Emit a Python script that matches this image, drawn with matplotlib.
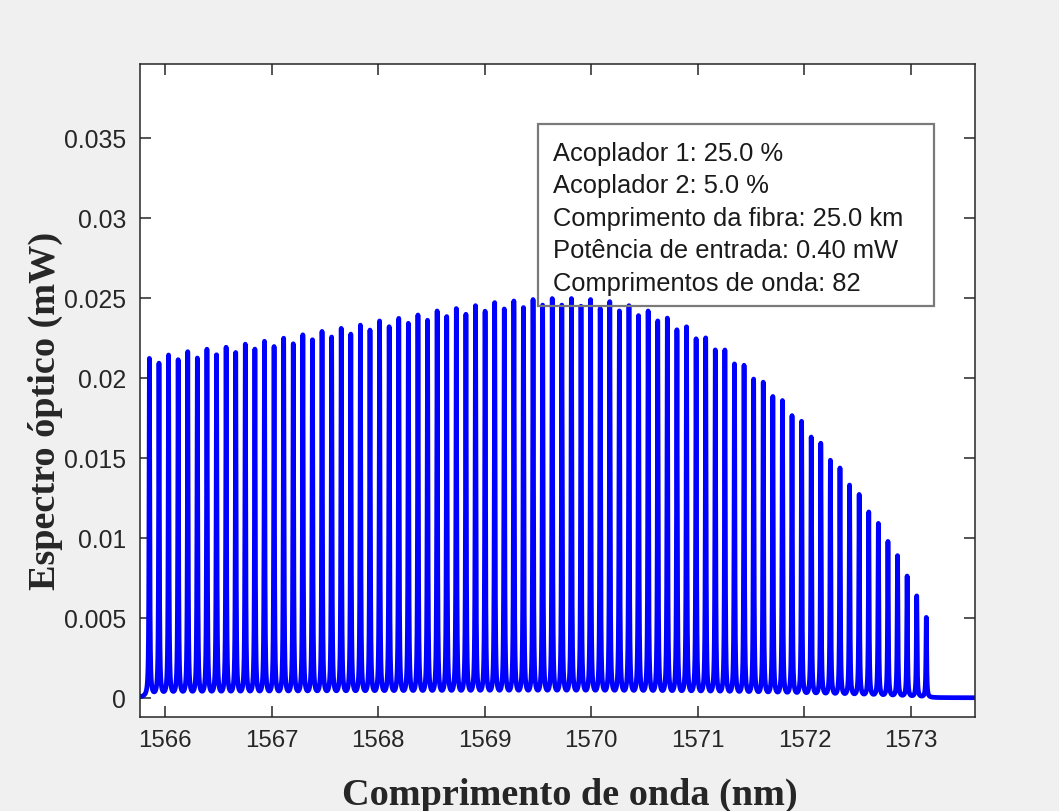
import numpy as np
import matplotlib.pyplot as plt
from matplotlib.patches import Rectangle

# comprimento de onda central de cada canal (nm)
wavelengths = [
    1565.853, 1565.943, 1566.033, 1566.123, 1566.213, 1566.303, 1566.393, 1566.483, 1566.573, 1566.663,
    1566.753, 1566.843, 1566.933, 1567.023, 1567.113, 1567.203, 1567.293, 1567.383, 1567.473, 1567.563,
    1567.653, 1567.743, 1567.833, 1567.923, 1568.013, 1568.103, 1568.193, 1568.283, 1568.373, 1568.463,
    1568.553, 1568.643, 1568.733, 1568.823, 1568.913, 1569.003, 1569.093, 1569.183, 1569.273, 1569.363,
    1569.453, 1569.543, 1569.633, 1569.723, 1569.813, 1569.903, 1569.993, 1570.083, 1570.173, 1570.263,
    1570.353, 1570.443, 1570.533, 1570.623, 1570.713, 1570.803, 1570.893, 1570.983, 1571.073, 1571.163,
    1571.253, 1571.343, 1571.433, 1571.523, 1571.613, 1571.703, 1571.793, 1571.883, 1571.973, 1572.063,
    1572.153, 1572.243, 1572.333, 1572.423, 1572.513, 1572.603, 1572.693, 1572.783, 1572.873, 1572.963,
    1573.053, 1573.143,
]

# potencia de pico de cada canal (mW)
peak_power = [
    0.02114, 0.02080, 0.02130, 0.02100, 0.02150, 0.02110, 0.02165, 0.02130, 0.02177, 0.02144,
    0.02196, 0.02165, 0.02214, 0.02181, 0.02233, 0.02198, 0.02254, 0.02223, 0.02275, 0.02240,
    0.02294, 0.02258, 0.02314, 0.02283, 0.02340, 0.02304, 0.02356, 0.02325, 0.02377, 0.02344,
    0.02402, 0.02367, 0.02417, 0.02381, 0.02435, 0.02400, 0.02454, 0.02414, 0.02464, 0.02423,
    0.02473, 0.02438, 0.02479, 0.02438, 0.02479, 0.02431, 0.02473, 0.02417, 0.02460, 0.02402,
    0.02435, 0.02373, 0.02402, 0.02340, 0.02358, 0.02285, 0.02304, 0.02229, 0.02235, 0.02160,
    0.02160, 0.02073, 0.02065, 0.01979, 0.01960, 0.01871, 0.01846, 0.01752, 0.01717, 0.01619,
    0.01581, 0.01475, 0.01427, 0.01321, 0.01263, 0.01154, 0.01083, 0.00971, 0.00883, 0.00756,
    0.00633, 0.00500,
]

info_lines = [
    'Acoplador 1: 25.0 %',
    'Acoplador 2: 5.0 %',
    'Comprimento da fibra: 25.0 km',
    'Potência de entrada: 0.40 mW',
    'Comprimentos de onda: 82',
]

x_ticks = [1566, 1567, 1568, 1569, 1570, 1571, 1572, 1573]
y_ticks = [0, 0.005, 0.01, 0.015, 0.02, 0.025, 0.03, 0.035]
y_tick_labels = ['0', '0.005', '0.01', '0.015', '0.02', '0.025', '0.03', '0.035']

x_min, x_max = 1565.765, 1573.60
y_min, y_max = -0.0012, 0.0396

W, H = 1059, 812
dark = '#262626'

fig = plt.figure(figsize=(W / 100, H / 100), dpi=100, facecolor='#f0f0f0')
ax = fig.add_axes([140 / W, 1 - 718 / H, (975 - 140) / W, (718 - 65) / H])

# espectro: soma de linhas lorentzianas estreitas em cada canal
lam = np.sort(np.concatenate([np.linspace(x_min, x_max, 16000), wavelengths]))
g = 0.004
spec = np.zeros_like(lam)
for wl, p in zip(wavelengths, peak_power):
    spec += p / (1 + ((lam - wl) / g) ** 2)

ax.plot(lam, spec, color='#0000ff', lw=3.4, solid_joinstyle='round')

ax.set_xlim(x_min, x_max)
ax.set_ylim(y_min, y_max)
ax.set_xticks(x_ticks)
ax.set_xticklabels([str(t) for t in x_ticks])
ax.set_yticks(y_ticks)
ax.set_yticklabels(y_tick_labels)
ax.tick_params(direction='in', length=8, width=1.1, top=True, right=True,
               color=dark, labelcolor=dark, labelsize=17.3)
ax.tick_params(axis='x', pad=9)
ax.tick_params(axis='y', pad=10, labelsize=17.8)
for lab in ax.get_xticklabels() + ax.get_yticklabels():
    lab.set_family('Liberation Sans')
for s in ax.spines.values():
    s.set_color(dark)
    s.set_linewidth(1.1)

fig.text(570 / W, 1 - 795 / H, 'Comprimento de onda (nm)', ha='center', va='center',
         family='Liberation Serif', weight='bold', fontsize=27.5, color=dark)
fig.text(45 / W, 1 - 411 / H, 'Espectro óptico (mW)', ha='center', va='center', rotation=90,
         family='Liberation Serif', weight='bold', fontsize=27.5, color=dark)

# caixa de anotacao
box = Rectangle((538 / W, 1 - 307 / H), (934 - 538) / W, (307 - 125) / H,
                transform=fig.transFigure, fill=False, edgecolor='#7a7a7a', lw=1.6)
fig.add_artist(box)
for i, line in enumerate(info_lines):
    fig.text(553 / W, 1 - (154 + 32.5 * i) / H, line, ha='left', va='center',
             family='Liberation Sans', fontsize=18.4, color='#1a1a1a')

fig.savefig('out.png', dpi=100, facecolor=fig.get_facecolor())
